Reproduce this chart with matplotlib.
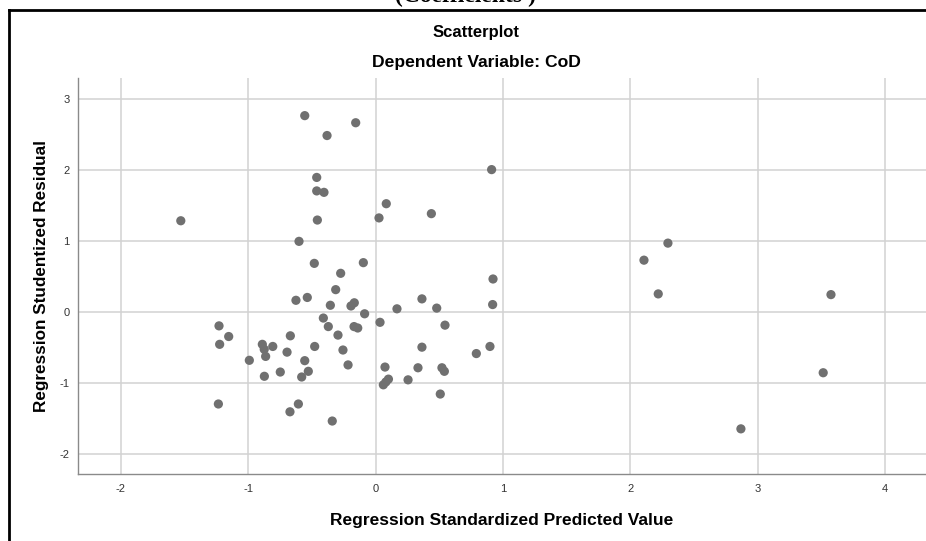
import numpy as np
import matplotlib
matplotlib.use('Agg')
import matplotlib.pyplot as plt
from matplotlib.lines import Line2D

# standardized predicted values (x) and studentized residuals (y)
pred_std = [-1.53, -0.557, -0.157, -0.382, 0.910, -0.463, -0.463, -0.406, 0.083, 0.437,
            0.026, -0.458, -0.602, -0.482, -0.097, -0.275, 0.921, -0.314, -0.626, -0.537,
            -0.356, -0.194, -0.168, 0.363, 0.167, 0.479, 0.918, -0.087, -0.411, -0.372,
            -0.170, -0.141, 0.034, 0.544, -1.23, -1.154, -1.225, -0.992, -0.89, -0.875,
            -0.864, -0.808, -0.874, -0.749, -0.696, -0.670, -0.557, -0.529, -0.581, -0.479,
            -0.296, -0.257, -0.217, 0.073, 0.06, 0.08, 0.10, 0.254, 0.332, 0.363,
            0.52, 0.539, 0.507, 0.79, 0.897, -1.235, -0.673, -0.607, -0.341, 3.513,
            2.867, 2.294, 2.106, 2.218, 3.574]
resid_stud = [1.29, 2.77, 2.67, 2.49, 2.01, 1.90, 1.71, 1.69, 1.53, 1.39,
              1.33, 1.30, 1.00, 0.69, 0.70, 0.55, 0.47, 0.32, 0.17, 0.21,
              0.10, 0.09, 0.135, 0.19, 0.05, 0.06, 0.11, -0.02, -0.08, -0.20,
              -0.20, -0.22, -0.14, -0.18, -0.19, -0.34, -0.45, -0.675, -0.45, -0.52,
              -0.62, -0.48, -0.90, -0.84, -0.56, -0.33, -0.68, -0.83, -0.91, -0.48,
              -0.32, -0.53, -0.74, -0.77, -1.02, -0.98, -0.94, -0.95, -0.78, -0.49,
              -0.78, -0.83, -1.15, -0.58, -0.48, -1.29, -1.40, -1.29, -1.53, -0.85,
              -1.64, 0.975, 0.735, 0.26, 0.25]

x_ticks = [-2, -1, 0, 1, 2, 3, 4]
y_ticks = [-2, -1, 0, 1, 2, 3]

plt.rcParams['font.family'] = ['Liberation Sans', 'DejaVu Sans']
plt.rcParams['axes.unicode_minus'] = False

fig = plt.figure(figsize=(9.26, 5.41), dpi=100)
W, H = 926, 541

ax = fig.add_axes([78 / W, 1 - 474.3 / H, 1 - 78 / W, (474.3 - 78) / H])
ax.scatter(pred_std, resid_stud, s=44, color='#707070', edgecolors='none', zorder=3)

ax.set_xlim(-2.337, 4.32)
ax.set_ylim(-2.28, 3.30)
ax.set_xticks(x_ticks)
ax.set_yticks(y_ticks)
ax.grid(True, color='#d2d2d2', linewidth=1.1)
ax.set_axisbelow(True)
ax.tick_params(length=0, labelsize=8, colors='#333333')
ax.tick_params(axis='x', pad=7)
ax.tick_params(axis='y', pad=6)

for side in ['top', 'right']:
    ax.spines[side].set_visible(False)
for side in ['left', 'bottom']:
    ax.spines[side].set_color('#8a8a8a')
    ax.spines[side].set_linewidth(1.0)

ax.set_xlabel('Regression Standardized Predicted Value', fontsize=12.5,
              fontweight='bold', labelpad=14)
ax.set_ylabel('Regression Studentized Residual', fontsize=12.3,
              fontweight='bold', labelpad=8)

fig.text(476 / W, 1 - 33 / H, 'Scatterplot', ha='center', va='center',
         fontsize=12, fontweight='bold')
fig.text(476 / W, 1 - 62 / H, 'Dependent Variable: CoD', ha='center', va='center',
         fontsize=12.6, fontweight='bold')

# heading of the block above, cut off by the crop
fig.text(465 / W, 1 + 4 / H, '(Coefficients )', ha='center', va='center',
         fontsize=17, fontweight='bold', family=['Liberation Serif', 'DejaVu Serif'])

# frame around the output block
fig.add_artist(Line2D([9 / W, 9 / W], [0, 1 - 10 / H], color='black', linewidth=2,
                      transform=fig.transFigure))
fig.add_artist(Line2D([9 / W, 1], [1 - 10 / H, 1 - 10 / H], color='black', linewidth=2,
                      transform=fig.transFigure))

fig.savefig('out.png', dpi=100)
